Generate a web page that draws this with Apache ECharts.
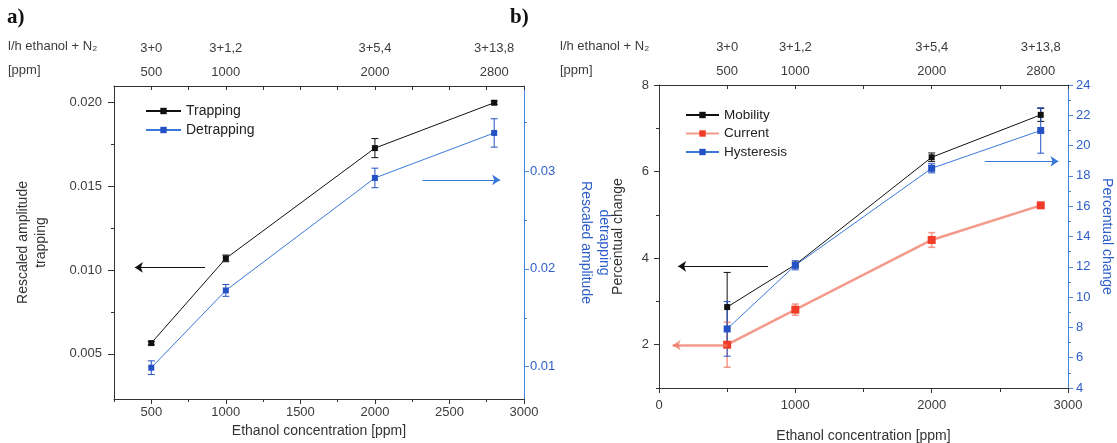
<!DOCTYPE html>
<html>
<head>
<meta charset="utf-8">
<script src="https://cdn.jsdelivr.net/npm/echarts@6/dist/echarts.min.js"></script>
<style>
html,body{margin:0;padding:0;background:#fff;}
#chart{width:1117px;height:443px;}
</style>
</head>
<body>
<div id="chart"></div>
<script>
// ---------- data ----------
// panel a)
const ppmA = [500, 1000, 2000, 2800];
const flowA = ['3+0', '3+1,2', '3+5,4', '3+13,8'];
const trapping = [0.00564, 0.0107, 0.01729, 0.0200];
const trappingErr = [0.0001, 0.0002, 0.00057, 0.0001];
const detrapping = [0.0099, 0.0178, 0.0293, 0.0339];
const detrappingErr = [0.0007, 0.0006, 0.0010, 0.00145];
// panel b)
const ppmB = [500, 1000, 2000, 2800];
const flowB = ['3+0', '3+1,2', '3+5,4', '3+13,8'];
const mobility = [2.87, 3.85, 6.33, 7.31];
const mobilityErr = [0.80, 0.05, 0.10, 0.15];
const current = [2.00, 2.81, 4.42, 5.22];
const currentErr = [0.52, 0.13, 0.17, 0.05];
const hysteresis = [7.9, 12.1, 18.5, 21.0];
const hysteresisErr = [1.8, 0.3, 0.3, 1.5];

// tick labels
const xTicksA = [500, 1000, 1500, 2000, 2500, 3000];
const xMinorA = [250, 750, 1250, 1750, 2250, 2750];
const xTopTicksA = [250, 500, 750, 1000, 1250, 1500, 1750, 2000, 2250, 2500, 2750, 3000];
const yLeftTicksA = [0.005, 0.010, 0.015, 0.020];
const yLeftMinorA = [0.0075, 0.0125, 0.0175];
const yRightTicksA = [0.01, 0.02, 0.03];
const yRightMinorA = [0.015, 0.025, 0.035];
const xTicksB = [0, 1000, 2000, 3000];
const xMinorB = [500, 1500, 2500];
const xTopTicksB = [0, 500, 1000, 1500, 2000, 2500, 3000];
const yLeftTicksB = [2, 4, 6, 8];
const yLeftMinorB = [1, 3, 5, 7];
const yRightTicksB = [4, 6, 8, 10, 12, 14, 16, 18, 20, 22, 24];
const yRightMinorB = [5, 7, 9, 11, 13, 15, 17, 19, 21, 23];

// ---------- styles ----------
const FONT = "'Liberation Sans', Arial, sans-serif";
const DARK = '#333';
const LBL = '#3c3c3c';
const BLUE_AX = '#4a86d8';
const BLUE_TXT = '#2e5fc8';
const BLUE_LINE = '#3a78d8';
const BLUE_MK = '#2452c4';
const RED_LINE = 'rgba(240,120,100,0.75)';
const RED_MK = '#f03c28';

function zip(xs, ys) { return xs.map((x, i) => [x, ys[i]]); }
function errData(xs, ys, es) { return xs.map((x, i) => [x, ys[i] - es[i], ys[i] + es[i]]); }

function errSeries(xi, yi, data, color, width) {
  return {
    type: 'custom', xAxisIndex: xi, yAxisIndex: yi, silent: true, z: 3,
    encode: { x: 0, y: [1, 2] },
    data: data,
    renderItem: function (params, api) {
      const x = api.value(0), lo = api.value(1), hi = api.value(2);
      const p1 = api.coord([x, hi]), p2 = api.coord([x, lo]);
      const w = 3.5;
      const st = { stroke: color, lineWidth: width || 1 };
      return {
        type: 'group', children: [
          { type: 'line', shape: { x1: p1[0], y1: p1[1], x2: p2[0], y2: p2[1] }, style: st },
          { type: 'line', shape: { x1: p1[0] - w, y1: p1[1], x2: p1[0] + w, y2: p1[1] }, style: st },
          { type: 'line', shape: { x1: p2[0] - w, y1: p2[1], x2: p2[0] + w, y2: p2[1] }, style: st }
        ]
      };
    }
  };
}

function arrow(color, from, to, width) {
  return {
    silent: true, symbol: ['none', 'arrow'], symbolSize: 8, animation: false,
    lineStyle: { color: color, width: width || 1, type: 'solid' },
    label: { show: false },
    emphasis: { disabled: true },
    data: [[{ coord: from }, { coord: to }]]
  };
}

const axLine = (c) => ({ show: true, onZero: false, lineStyle: { color: c, width: 1 } });
const noLine = { show: false, onZero: false };
const tickLbl = (c) => ({ fontFamily: FONT, fontSize: 13, color: c });
const plain = (v) => String(v);

const topRich = (c) => ({
  a: { fontFamily: FONT, fontSize: 13, color: c, lineHeight: 24 },
  b: { fontFamily: FONT, fontSize: 13, color: c, lineHeight: 24 }
});

const option = {
  animation: false,
  backgroundColor: '#fff',
  grid: [
    { left: 114, top: 86, width: 410, height: 313, containLabel: false, outerBoundsMode: 'none' },
    { left: 659, top: 85, width: 409, height: 303, containLabel: false, outerBoundsMode: 'none' }
  ],
  xAxis: [
    { // 0 panel a bottom
      type: 'value', gridIndex: 0, min: 250, max: 3000, position: 'bottom',
      axisLine: axLine(DARK),
      axisTick: { show: true, customValues: xTicksA, length: 5, lineStyle: { color: DARK } },
      axisLabel: Object.assign({ customValues: xTicksA, margin: 7, formatter: plain }, tickLbl(LBL)),
      splitLine: { show: false },
      name: 'Ethanol concentration [ppm]', nameLocation: 'middle', nameGap: 22,
      nameTextStyle: { fontFamily: FONT, fontSize: 14, color: DARK }
    },
    { // 1 panel a bottom minor
      type: 'value', gridIndex: 0, min: 250, max: 3000, position: 'bottom',
      axisLine: noLine,
      axisTick: { show: true, customValues: xMinorA, length: 3, lineStyle: { color: DARK } },
      axisLabel: { show: false }, splitLine: { show: false }
    },
    { // 2 panel a top
      type: 'value', gridIndex: 0, min: 250, max: 3000, position: 'top',
      axisLine: axLine(DARK),
      axisTick: { show: true, inside: true, customValues: xTopTicksA, length: 4, lineStyle: { color: DARK } },
      axisLabel: {
        customValues: ppmA, margin: 2,
        formatter: (v) => { const i = ppmA.indexOf(v); return i < 0 ? '' : '{a|' + flowA[i] + '}\n{b|' + v + '}'; },
        rich: topRich(LBL)
      },
      splitLine: { show: false }
    },
    { // 3 panel b bottom
      type: 'value', gridIndex: 1, min: 0, max: 3000, position: 'bottom',
      axisLine: axLine(DARK),
      axisTick: { show: true, customValues: xTicksB, length: 5, lineStyle: { color: DARK } },
      axisLabel: Object.assign({ customValues: xTicksB, margin: 11, formatter: plain }, tickLbl(LBL)),
      splitLine: { show: false },
      name: 'Ethanol concentration [ppm]', nameLocation: 'middle', nameGap: 41,
      nameTextStyle: { fontFamily: FONT, fontSize: 14, color: DARK }
    },
    { // 4 panel b bottom minor
      type: 'value', gridIndex: 1, min: 0, max: 3000, position: 'bottom',
      axisLine: noLine,
      axisTick: { show: true, customValues: xMinorB, length: 4, lineStyle: { color: DARK } },
      axisLabel: { show: false }, splitLine: { show: false }
    },
    { // 5 panel b top
      type: 'value', gridIndex: 1, min: 0, max: 3000, position: 'top',
      axisLine: axLine(DARK),
      axisTick: { show: true, inside: true, customValues: xTopTicksB, length: 4, lineStyle: { color: DARK } },
      axisLabel: {
        customValues: ppmB, margin: 2,
        formatter: (v) => { const i = ppmB.indexOf(v); return i < 0 ? '' : '{a|' + flowB[i] + '}\n{b|' + v + '}'; },
        rich: topRich(LBL)
      },
      splitLine: { show: false }
    }
  ],
  yAxis: [
    { // 0 panel a left
      type: 'value', gridIndex: 0, min: 0.0023, max: 0.0210, position: 'left',
      axisLine: axLine(DARK),
      axisTick: { show: true, customValues: yLeftTicksA, length: 6, lineStyle: { color: DARK } },
      axisLabel: Object.assign({ customValues: yLeftTicksA, margin: 12, formatter: (v) => v.toFixed(3) }, tickLbl(LBL)),
      splitLine: { show: false },
      name: 'Rescaled amplitude\ntrapping', nameLocation: 'middle', nameRotate: 90, nameGap: 64,
      nameTextStyle: { fontFamily: FONT, fontSize: 14, color: DARK, lineHeight: 18 }
    },
    { // 1 panel a left minor
      type: 'value', gridIndex: 0, min: 0.0023, max: 0.0210, position: 'left',
      axisLine: noLine,
      axisTick: { show: true, customValues: yLeftMinorA, length: 3, lineStyle: { color: DARK } },
      axisLabel: { show: false }, splitLine: { show: false }
    },
    { // 2 panel a right
      type: 'value', gridIndex: 0, min: 0.0067, max: 0.0387, position: 'right',
      axisLine: axLine(BLUE_AX),
      axisTick: { show: true, customValues: yRightTicksA, length: 5, lineStyle: { color: BLUE_AX } },
      axisLabel: Object.assign({ customValues: yRightTicksA, margin: 6, formatter: (v) => v.toFixed(2) }, tickLbl(BLUE_TXT)),
      splitLine: { show: false },
      name: 'detrapping\nRescaled amplitude', nameLocation: 'middle', nameRotate: -90, nameGap: 53,
      nameTextStyle: { fontFamily: FONT, fontSize: 14, color: BLUE_TXT, lineHeight: 18 }
    },
    { // 3 panel a right minor
      type: 'value', gridIndex: 0, min: 0.0067, max: 0.0387, position: 'right',
      axisLine: noLine,
      axisTick: { show: true, customValues: yRightMinorA, length: 3, lineStyle: { color: BLUE_AX } },
      axisLabel: { show: false }, splitLine: { show: false }
    },
    { // 4 panel b left
      type: 'value', gridIndex: 1, min: 1, max: 8, position: 'left',
      axisLine: axLine(DARK),
      axisTick: { show: true, customValues: yLeftTicksB, length: 5, lineStyle: { color: DARK } },
      axisLabel: Object.assign({ customValues: yLeftTicksB, margin: 10 }, tickLbl(LBL)),
      splitLine: { show: false },
      name: 'Percentual change', nameLocation: 'middle', nameRotate: 90, nameGap: 34,
      nameTextStyle: { fontFamily: FONT, fontSize: 14, color: DARK }
    },
    { // 5 panel b left minor
      type: 'value', gridIndex: 1, min: 1, max: 8, position: 'left',
      axisLine: noLine,
      axisTick: { show: true, customValues: yLeftMinorB, length: 3, lineStyle: { color: DARK } },
      axisLabel: { show: false }, splitLine: { show: false }
    },
    { // 6 panel b right
      type: 'value', gridIndex: 1, min: 4, max: 24, position: 'right',
      axisLine: axLine(BLUE_AX),
      axisTick: { show: true, customValues: yRightTicksB, length: 5, lineStyle: { color: BLUE_AX } },
      axisLabel: Object.assign({ customValues: yRightTicksB, margin: 8 }, tickLbl(BLUE_TXT)),
      splitLine: { show: false },
      name: 'Percentual change', nameLocation: 'middle', nameRotate: -90, nameGap: 32,
      nameTextStyle: { fontFamily: FONT, fontSize: 14, color: BLUE_TXT }
    },
    { // 7 panel b right minor
      type: 'value', gridIndex: 1, min: 4, max: 24, position: 'right',
      axisLine: noLine,
      axisTick: { show: true, customValues: yRightMinorB, length: 3, lineStyle: { color: BLUE_AX } },
      axisLabel: { show: false }, splitLine: { show: false }
    }
  ],
  legend: [
    {
      data: ['Trapping', 'Detrapping'], orient: 'vertical', left: 145, top: 104, padding: 0,
      itemWidth: 35, itemHeight: 8, itemGap: 5,
      textStyle: { fontFamily: FONT, fontSize: 14, color: '#222', lineHeight: 14 },
      selectedMode: false
    },
    {
      data: ['Mobility', 'Current', 'Hysteresis'], orient: 'vertical', left: 685, top: 108, padding: 0,
      itemWidth: 33, itemHeight: 8, itemGap: 4.5,
      textStyle: { fontFamily: FONT, fontSize: 13.5, color: '#222', lineHeight: 14 },
      selectedMode: false
    }
  ],
  graphic: [
    { type: 'text', left: 7, top: 7, style: { text: 'a)', font: "bold 21px 'Liberation Serif', serif", fill: '#111' } },
    { type: 'text', left: 510, top: 7, style: { text: 'b)', font: "bold 21px 'Liberation Serif', serif", fill: '#111' } },
    { type: 'text', left: 8, top: 40, style: { text: 'l/h ethanol + N₂', font: "13px 'Liberation Sans', Arial", fill: LBL } },
    { type: 'text', left: 8, top: 64, style: { text: '[ppm]', font: "13px 'Liberation Sans', Arial", fill: LBL } },
    { type: 'text', left: 560, top: 40, style: { text: 'l/h ethanol + N₂', font: "13px 'Liberation Sans', Arial", fill: LBL } },
    { type: 'text', left: 560, top: 64, style: { text: '[ppm]', font: "13px 'Liberation Sans', Arial", fill: LBL } }
  ],
  series: [
    errSeries(0, 0, errData(ppmA, trapping, trappingErr), '#111'),
    errSeries(0, 2, errData(ppmA, detrapping, detrappingErr), BLUE_MK),
    {
      name: 'Trapping', type: 'line', xAxisIndex: 0, yAxisIndex: 0, data: zip(ppmA, trapping),
      symbol: 'rect', symbolSize: 6, z: 4,
      lineStyle: { color: '#111', width: 1 }, itemStyle: { color: '#111' },
      markLine: arrow('#111', [860, 0.01016], [390, 0.01016])
    },
    {
      name: 'Detrapping', type: 'line', xAxisIndex: 0, yAxisIndex: 2, data: zip(ppmA, detrapping),
      symbol: 'rect', symbolSize: 6, z: 4,
      lineStyle: { color: BLUE_LINE, width: 1 }, itemStyle: { color: BLUE_MK },
      markLine: arrow(BLUE_LINE, [2320, 0.0291], [2840, 0.0291])
    },
    errSeries(3, 4, errData(ppmB, mobility, mobilityErr), '#111'),
    errSeries(3, 4, errData(ppmB, current, currentErr), RED_LINE, 1.5),
    errSeries(3, 6, errData(ppmB, hysteresis, hysteresisErr), BLUE_MK),
    {
      name: 'Current', type: 'line', xAxisIndex: 3, yAxisIndex: 4, data: zip(ppmB, current),
      symbol: 'rect', symbolSize: 8, z: 4,
      lineStyle: { color: RED_LINE, width: 2.5 }, itemStyle: { color: RED_MK },
      markLine: arrow(RED_LINE, [500, 1.99], [100, 1.99], 2.5)
    },
    {
      name: 'Mobility', type: 'line', xAxisIndex: 3, yAxisIndex: 4, data: zip(ppmB, mobility),
      symbol: 'rect', symbolSize: 6, z: 5,
      lineStyle: { color: '#111', width: 1 }, itemStyle: { color: '#111' },
      markLine: arrow('#111', [800, 3.81], [140, 3.81])
    },
    {
      name: 'Hysteresis', type: 'line', xAxisIndex: 3, yAxisIndex: 6, data: zip(ppmB, hysteresis),
      symbol: 'rect', symbolSize: 7, z: 5,
      lineStyle: { color: BLUE_LINE, width: 1 }, itemStyle: { color: BLUE_MK },
      markLine: arrow(BLUE_LINE, [2390, 18.96], [2930, 18.96])
    }
  ]
};

const chart = echarts.init(document.getElementById('chart'), null, { renderer: 'canvas' });
chart.setOption(option);
</script>
</body>
</html>
